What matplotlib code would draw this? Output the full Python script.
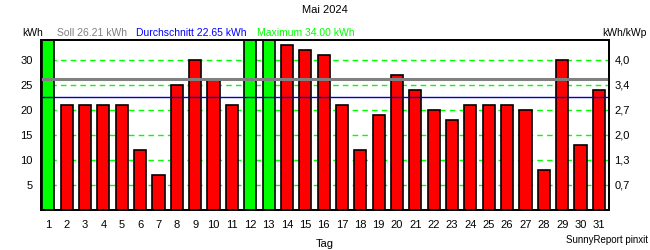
import numpy as np
import matplotlib
matplotlib.use("Agg")
from matplotlib import pyplot as plt

plt.rcParams['font.family'] = ['Liberation Sans', 'DejaVu Sans']

# Daily yield in kWh, May 2024
days = list(range(1, 32))
values = [34, 21, 21, 21, 21, 12, 7, 25, 30, 26, 21, 34, 34, 33, 32, 31, 21, 12,
          19, 27, 24, 20, 18, 21, 21, 21, 20, 8, 30, 13, 24]
soll = 26.21
average = 22.65
maximum = 34.00
left_ticks = [5, 10, 15, 20, 25, 30]
right_labels = ["0,7", "1,3", "2,0", "2,7", "3,4", "4,0"]

colors = ['#00ff00' if v >= maximum else '#ff0000' for v in values]
fs = 8
hs = 7.5

fig = plt.figure(figsize=(6.5, 2.5), dpi=100)
ax = fig.add_axes([41 / 650, 1 - 210 / 250, 568 / 650, 170 / 250])

# grid lines
for t in left_ticks:
    ax.axhline(t, color='#00ff00', lw=1.0, ls=(0, (4, 3)), zorder=1)

ax.bar(days, values, width=0.66, color=colors, edgecolor='black', linewidth=1.2, zorder=2)

# target and average lines
ax.axhline(soll, color='#808080', lw=2.2, zorder=3)
ax.axhline(average, color='#0000cc', lw=1.0, zorder=3)

ax.set_xlim(0.6, 31.55)
ax.set_ylim(0, 34)
ax.set_xticks(days)
ax.set_xticklabels([str(d) for d in days], fontsize=fs)
ax.set_yticks(left_ticks)
ax.set_yticklabels([str(t) for t in left_ticks], fontsize=fs)
ax.tick_params(length=0, pad=6)
ax.tick_params(axis='x', pad=7)

ax2 = ax.twinx()
ax2.set_ylim(0, 34)
ax2.set_yticks(left_ticks)
ax2.set_yticklabels(right_labels, fontsize=fs)
ax2.tick_params(length=0, pad=4)

for a in (ax, ax2):
    for s in a.spines.values():
        s.set_linewidth(1.3)

ax.set_xlabel("Tag", fontsize=fs, labelpad=7)

# header texts
fig.text(0.5, 1 - 10 / 250, "Mai 2024", ha='center', va='center', fontsize=fs)
fig.text(22 / 650, 1 - 33 / 250, "kWh", ha='left', va='center', fontsize=hs)
fig.text(57 / 650, 1 - 33 / 250, "Soll 26.21 kWh", ha='left', va='center', fontsize=hs, color='#808080')
fig.text(136 / 650, 1 - 33 / 250, "Durchschnitt 22.65 kWh", ha='left', va='center', fontsize=hs, color='#0000ff')
fig.text(257 / 650, 1 - 33 / 250, "Maximum 34.00 kWh", ha='left', va='center', fontsize=hs, color='#00ff00')
fig.text(647 / 650, 1 - 33 / 250, "kWh/kWp", ha='right', va='center', fontsize=hs)
fig.text(648 / 650, 1 - 240 / 250, "SunnyReport pinxit", ha='right', va='center', fontsize=7)

fig.savefig("out.png", dpi=100)
